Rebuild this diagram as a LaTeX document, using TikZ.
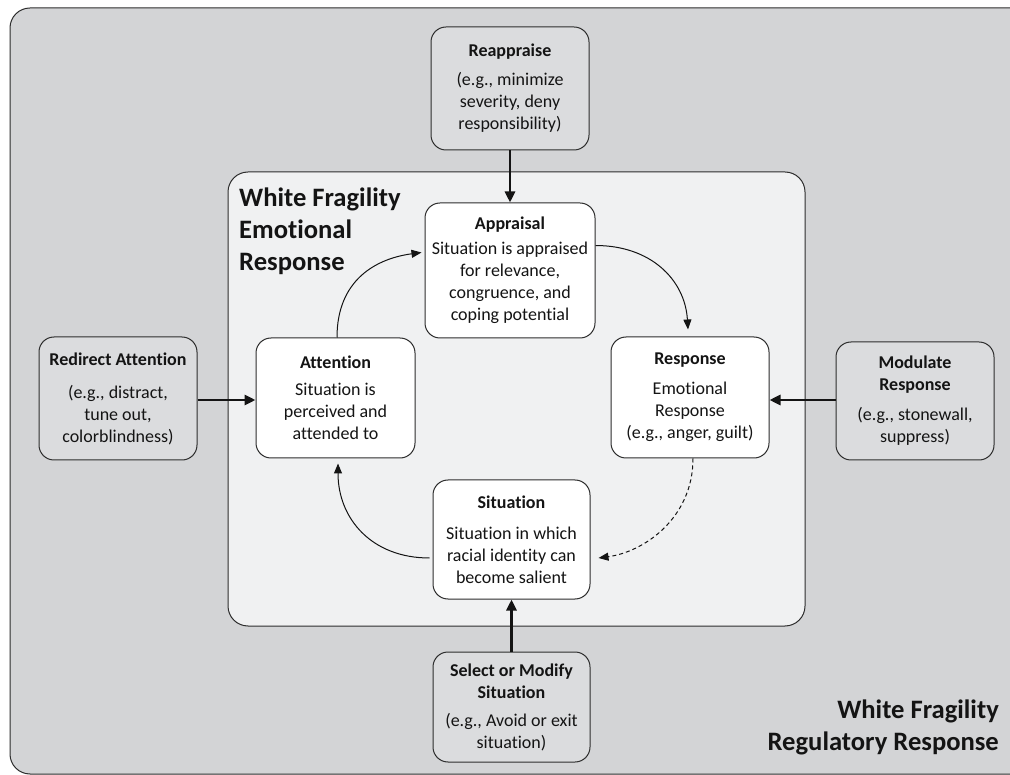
\documentclass[tikz,border=0pt]{standalone}
\usepackage{fontspec}
\setmainfont{Carlito}[Ligatures={NoCommon}]
\usetikzlibrary{arrows.meta}
\definecolor{outerbg}{RGB}{211,212,214}
\definecolor{innerbg}{RGB}{240,241,242}
\definecolor{boxbg}{RGB}{219,220,222}
\definecolor{linec}{RGB}{45,45,45}
\definecolor{textc}{RGB}{20,20,20}
\begin{document}
\begin{tikzpicture}[x=1pt,y=-1pt,
  box/.style={draw=linec, line width=1pt, rounded corners=15pt, align=center,
    inner sep=0pt, text=textc, font=\fontsize{18}{22}\selectfont},
  whitebox/.style={box, fill=white},
  greybox/.style={box, fill=boxbg},
  panel/.style={draw=linec, line width=1pt, rounded corners=20pt},
  bigarrow/.style={draw=textc, line width=2.8pt, -{Triangle[length=11pt,width=10pt]}},
  thinarrow/.style={draw=textc, line width=1pt, -{Triangle[length=10pt,width=8pt]}},
  title/.style={inner sep=0pt, text=textc, font=\bfseries\fontsize{26.6}{32}\selectfont}
]
\useasboundingbox (0,0) rectangle (1010,775);
\clip (0,0) rectangle (1010,775);
\fill[white] (0,0) rectangle (1010,775);
\draw[panel, fill=outerbg] (10,8) rectangle (1040,774);
\draw[panel, fill=innerbg] (228,172) rectangle (805,626);

\node[title, anchor=north west, align=left] (etitle) at (239,188)
  {White Fragility\\Emotional\\Response};
\node[title, anchor=south east, align=right] (rtitle) at (999,755)
  {White Fragility\\Regulatory Response};

\node[greybox, minimum width=158pt, minimum height=123pt] (reappraise) at (510,88.5)
  {\textbf{Reappraise}\\[7pt](e.g., minimize\\severity, deny\\responsibility)};
\node[whitebox, minimum width=170pt, minimum height=135pt] (appraisal) at (510,270.5)
  {\textbf{Appraisal}\\[3pt]Situation is appraised\\for relevance,\\congruence, and\\coping potential};
\node[whitebox, minimum width=159pt, minimum height=120pt] (attention) at (335.5,398)
  {\textbf{Attention}\\[5pt]Situation is\\perceived and\\attended to};
\node[whitebox, minimum width=158pt, minimum height=121pt] (response) at (690,397.5)
  {\textbf{Response}\\[8pt]Emotional\\Response\\(e.g., anger, guilt)};
\node[whitebox, minimum width=157pt, minimum height=119pt] (situation) at (511.5,539.5)
  {\textbf{Situation}\\[9pt]Situation in which\\racial identity can\\become salient};
\node[greybox, minimum width=158pt, minimum height=123pt] (redirect) at (118,398.5)
  {\textbf{Redirect Attention}\\[11pt](e.g., distract,\\tune out,\\colorblindness)};
\node[greybox, minimum width=158pt, minimum height=118pt] (modulate) at (915,401)
  {\textbf{Modulate}\\\textbf{Response}\\[8pt](e.g., stonewall,\\suppress)};
\node[greybox, minimum width=157pt, minimum height=110pt] (select) at (511.5,707)
  {\textbf{Select or Modify}\\\textbf{Situation}\\[6pt](e.g., Avoid or exit\\situation)};

\draw[bigarrow] (reappraise.south) -- (appraisal.north);
\draw[bigarrow] ([yshift=-1.5pt]redirect.east) -- ([yshift=-1.5pt]redirect.east -| attention.west);
\draw[bigarrow] ([yshift=1pt]modulate.west) -- ([yshift=1pt]modulate.west -| response.east);
\draw[bigarrow] (select.north) -- (situation.south);

\draw[thinarrow] ([xshift=1.5pt]attention.north) .. controls +(0,-58) and +(-45,6) ..
  ([xshift=-3pt,yshift=18pt]appraisal.west);
\draw[thinarrow] ([yshift=25pt]appraisal.east) .. controls +(55,0) and +(-3,-50) ..
  ([xshift=-2pt,yshift=7pt]response.north);
\draw[thinarrow] ([xshift=-3pt,yshift=-18.5pt]situation.west) .. controls +(-58,0) and +(0,55) ..
  ([xshift=2.5pt,yshift=-5pt]attention.south);
\draw[thinarrow, dash pattern=on 4pt off 3pt] ([xshift=3pt]response.south) .. controls +(0,60) and +(45,-6) ..
  ([xshift=8pt,yshift=-18.5pt]situation.east);
\end{tikzpicture}
\end{document}
